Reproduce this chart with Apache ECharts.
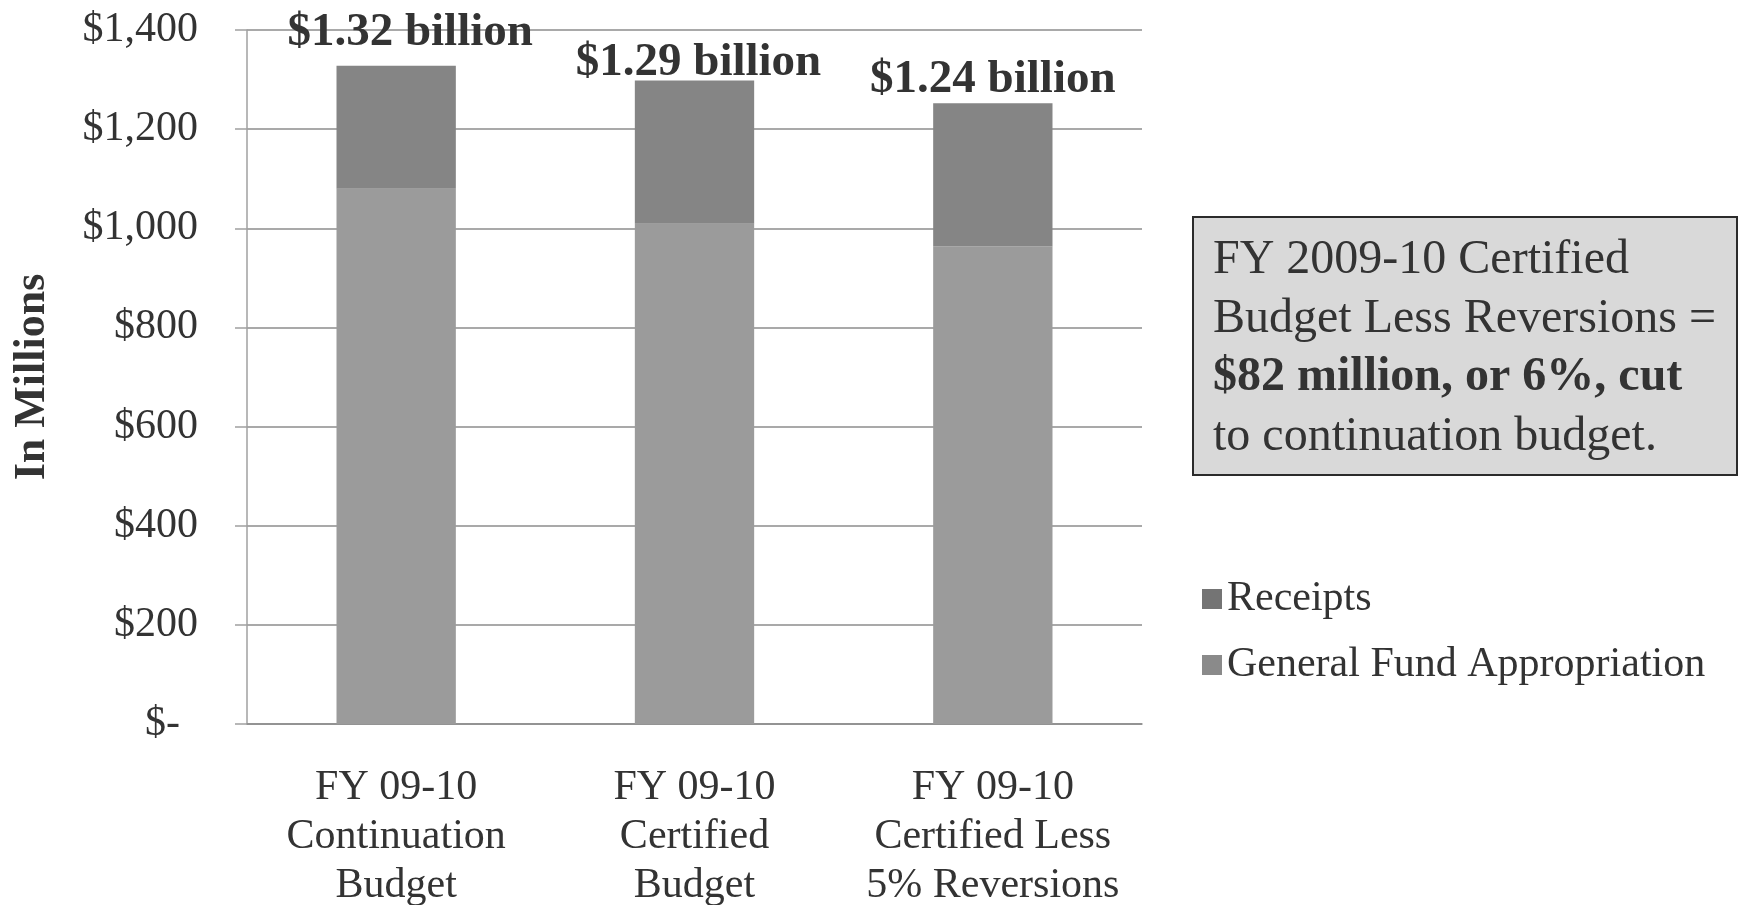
<!DOCTYPE html>
<html>
<head>
<meta charset="utf-8">
<script src="https://cdn.jsdelivr.net/npm/echarts@6/dist/echarts.min.js"></script>
<style>
  html, body { margin: 0; padding: 0; background: #ffffff; }
  #chart { width: 1738px; height: 905px; }
</style>
</head>
<body>
<div id="chart"></div>
<script>
// ---- Data ----
const categories = [
  'FY 09-10\nContinuation\nBudget',
  'FY 09-10\nCertified\nBudget',
  'FY 09-10\nCertified Less\n5% Reversions'
];
const generalFund = [1080, 1009, 964];
const receipts = [248, 289, 288];
const totalLabels = ['$1.32 billion', '$1.29 billion', '$1.24 billion'];
const yTicks = [0, 200, 400, 600, 800, 1000, 1200, 1400];
const yTickLabels = ['$-', '$200', '$400', '$600', '$800', '$1,000', '$1,200', '$1,400'];
const seriesNames = ['Receipts', 'General Fund Appropriation'];
const noteLines = [
  'FY 2009-10 Certified',
  'Budget Less Reversions =',
  '$82 million, or 6%, cut',
  'to continuation budget.'
];

// ---- Styles ----
const FONT = '"Liberation Serif", "Times New Roman", serif';
const TEXT = '#333333';
const labelOffsets = [[14, -9], [4, 6], [0, 0]];

const chart = echarts.init(document.getElementById('chart'), null, { renderer: 'canvas' });

const option = {
  backgroundColor: '#ffffff',
  animation: false,
  textStyle: { fontFamily: FONT },
  grid: { left: 247, right: 596, top: 30, bottom: 181, containLabel: false, outerBoundsMode: 'none' },
  legend: {
    orient: 'vertical',
    left: 1197,
    top: 573,
    itemWidth: 20,
    itemHeight: 20,
    itemGap: 24,
    icon: 'rect',
    textStyle: { fontFamily: FONT, fontSize: 42, color: TEXT },
    data: [
      { name: seriesNames[0], itemStyle: { color: '#747474' } },
      { name: seriesNames[1], itemStyle: { color: '#8a8a8a' } }
    ]
  },
  xAxis: {
    type: 'category',
    data: categories,
    axisLine: { show: true, lineStyle: { color: '#8c8c8c', width: 1.5 } },
    axisTick: { show: false },
    axisLabel: {
      interval: 0,
      margin: 39,
      fontFamily: FONT,
      fontSize: 42,
      lineHeight: 49,
      color: TEXT,
      align: 'center'
    }
  },
  yAxis: {
    type: 'value',
    min: 0,
    max: 1400,
    interval: 200,
    name: 'In Millions',
    nameLocation: 'middle',
    nameGap: 192,
    nameTextStyle: { fontFamily: FONT, fontSize: 44, fontWeight: 'bold', color: TEXT },
    axisLine: { show: true, lineStyle: { color: '#a0a0a0', width: 1.5 } },
    axisTick: { show: true, length: 12, lineStyle: { color: '#a0a0a0', width: 1.5 } },
    splitLine: { show: true, lineStyle: { color: '#8c8c8c', width: 1.5 } },
    axisLabel: {
      margin: 49,
      fontFamily: FONT,
      fontSize: 42,
      color: TEXT,
      formatter: function (v) {
        const i = yTicks.indexOf(v);
        const s = i >= 0 ? yTickLabels[i] : String(v);
        return v === 0 ? '{z|' + s + '}' : s;
      },
      rich: {
        z: { fontFamily: FONT, fontSize: 42, color: TEXT, padding: [0, 18, 0, 0] }
      }
    }
  },
  series: [
    {
      name: seriesNames[1],
      type: 'bar',
      stack: 'total',
      barCategoryGap: '60%',
      itemStyle: { color: '#9b9b9b' },
      data: generalFund
    },
    {
      name: seriesNames[0],
      type: 'bar',
      stack: 'total',
      barCategoryGap: '60%',
      itemStyle: { color: '#858585' },
      data: receipts.map(function (v, i) {
        return { value: v, label: { offset: labelOffsets[i] } };
      }),
      label: {
        show: true,
        position: 'top',
        distance: 0,
        fontFamily: FONT,
        fontSize: 47,
        lineHeight: 47,
        fontWeight: 'bold',
        color: TEXT,
        formatter: function (p) { return totalLabels[p.dataIndex]; }
      }
    }
  ],
  graphic: [
    {
      type: 'rect',
      left: 1192,
      top: 216,
      shape: { width: 544, height: 258 },
      style: { fill: '#d9d9d9', stroke: '#2b2b2b', lineWidth: 2 },
      z: 10
    },
    {
      type: 'text',
      left: 1213,
      top: 236,
      z: 11,
      style: {
        text: '{n|' + noteLines[0] + '}\n{n|' + noteLines[1] + '}\n{b|' + noteLines[2] + '}\n{n|' + noteLines[3] + '}',
        rich: {
          n: { fontFamily: FONT, fontSize: 48, lineHeight: 59, fill: TEXT, color: TEXT },
          b: { fontFamily: FONT, fontSize: 48, lineHeight: 59, fontWeight: 'bold', fill: TEXT, color: TEXT }
        }
      }
    }
  ]
};

chart.setOption(option);
</script>
</body>
</html>
